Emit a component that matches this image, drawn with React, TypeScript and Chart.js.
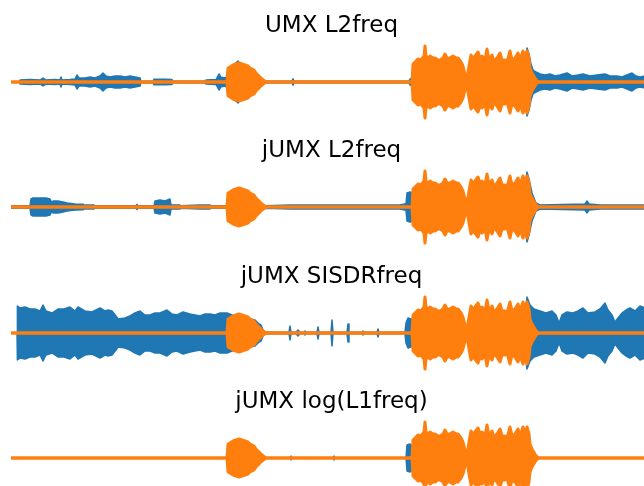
import React, { useEffect, useRef } from "react";
import { Chart, registerables } from "chart.js";

Chart.register(...registerables);

// Envelope points: [time (s), amplitude (normalised)]
const titles = ["UMX L2freq", "jUMX L2freq", "jUMX SISDRfreq", "jUMX log(L1freq)"];

// Target (orange) — same reference signal in every panel
const targetEnv: [number, number][] = [
  [0.0, 0], [10.8, 0], [10.85, 0.35], [10.95, 0.375], [11.1, 0.425], [11.25, 0.45], [11.4, 0.475],
  [11.55, 0.45], [11.7, 0.425], [11.85, 0.4], [11.95, 0.35], [12.05, 0.325], [12.15, 0.3], [12.25, 0.225],
  [12.35, 0.175], [12.45, 0.125], [12.55, 0.075], [12.65, 0.04], [12.75, 0], [20.05, 0],
  [20.1, 0.45], [20.2, 0.5], [20.35, 0.575], [20.5, 0.55], [20.65, 0.65], [20.7, 0.9], [20.75, 0.65],
  [20.85, 0.6], [20.95, 0.65], [21.1, 0.6], [21.2, 0.6], [21.35, 0.55], [21.45, 0.55], [21.6, 0.6],
  [21.7, 0.7], [21.8, 0.6], [21.95, 0.6], [22.1, 0.65], [22.25, 0.6], [22.35, 0.6], [22.5, 0.5],
  [22.6, 0.4], [22.7, 0.2], [22.8, 0.1], [22.9, 0.4], [23.0, 0.675], [23.1, 0.6], [23.2, 0.65],
  [23.35, 0.75], [23.45, 0.6], [23.55, 0.65], [23.7, 0.55], [23.8, 0.825], [23.9, 0.55], [24.05, 0.675],
  [24.15, 0.5], [24.3, 0.6], [24.45, 0.725], [24.55, 0.55], [24.7, 0.55], [24.8, 0.5], [24.95, 0.775],
  [25.05, 0.55], [25.2, 0.6], [25.35, 0.725], [25.45, 0.55], [25.6, 0.775], [25.7, 0.6], [25.8, 0.775],
  [25.9, 0.6], [25.95, 0.35], [26.05, 0.225], [26.2, 0.1], [26.3, 0.03], [26.4, 0], [32.05, 0],
];

// Estimates (blue) per model
const umxL2Env: [number, number][] = [
  [0.4, 0], [0.45, 0.05], [0.95, 0.0625], [1.45, 0.05], [1.6, 0.1], [1.75, 0.05], [2.2, 0.0625],
  [2.45, 0.05], [2.5, 0.125], [2.55, 0.05], [2.95, 0.0625], [3.2, 0.075], [3.3, 0.175], [3.4, 0.1],
  [3.7, 0.1], [3.95, 0.125], [4.2, 0.1], [4.45, 0.15], [4.6, 0.225], [4.75, 0.15], [4.95, 0.125],
  [5.2, 0.15], [5.45, 0.15], [5.7, 0.125], [5.95, 0.15], [6.2, 0.125], [6.45, 0.1], [6.5, 0.02],
  [7.1, 0.02], [7.15, 0.07], [7.7, 0.07], [8.05, 0.06], [8.1, 0.02], [9.7, 0.02], [9.75, 0.05],
  [10.25, 0.06], [10.4, 0.2], [10.5, 0.12], [10.75, 0.1], [10.85, 0.3], [11.35, 0.525], [11.55, 0.4],
  [11.95, 0.3], [12.35, 0.15], [12.6, 0.07], [12.7, 0.02], [14.05, 0.02], [14.1, 0.08], [14.15, 0.02],
  [19.9, 0.02], [19.95, 0.07], [20.05, 0.1], [20.1, 0.3], [22.65, 0.3], [22.75, 0.08], [22.9, 0.3],
  [25.7, 0.5], [25.8, 0.85], [25.9, 0.7], [26.0, 0.45], [26.1, 0.3], [26.25, 0.25], [26.45, 0.2],
  [26.7, 0.175], [26.95, 0.2], [27.2, 0.15], [27.45, 0.175], [27.8, 0.225], [28.05, 0.15], [28.35, 0.175],
  [28.6, 0.2], [28.95, 0.15], [29.3, 0.175], [29.7, 0.2], [29.95, 0.15], [30.3, 0.15], [30.55, 0.125],
  [30.8, 0.175], [31.05, 0.225], [31.25, 0.15], [31.45, 0.125], [31.7, 0.15], [32.05, 0.125],
];

const jumxL2Env: [number, number][] = [
  [0.0, 0.03], [0.95, 0.03], [1.0, 0.2], [1.1, 0.225], [1.45, 0.225], [1.75, 0.225], [1.95, 0.2],
  [2.05, 0.1], [2.1, 0.15], [2.35, 0.15], [2.6, 0.125], [2.8, 0.1], [3.2, 0.075], [3.6, 0.07],
  [3.65, 0.05], [4.15, 0.05], [4.2, 0.03], [6.25, 0.03], [6.3, 0.06], [6.35, 0.03], [7.15, 0.03],
  [7.2, 0.15], [7.45, 0.175], [7.7, 0.15], [7.95, 0.2], [8.0, 0.05], [8.45, 0.05], [8.5, 0.03],
  [9.45, 0.05], [9.95, 0.05], [10.0, 0.03], [10.8, 0.03], [10.85, 0.3], [12.4, 0.1], [12.7, 0.03],
  [14.0, 0.05], [15.55, 0.05], [19.45, 0.05], [19.75, 0.08], [19.8, 0.35], [19.95, 0.375], [20.05, 0.35],
  [20.1, 0.3], [22.65, 0.3], [22.75, 0.08], [22.9, 0.3], [25.7, 0.5], [25.8, 0.875], [25.9, 0.7],
  [26.05, 0.35], [26.25, 0.1], [26.45, 0.05], [28.7, 0.075], [28.8, 0.15], [28.9, 0.075], [29.45, 0.05],
  [32.05, 0.05],
];

const jumxSisdrEnv: [number, number][] = [
  [0.3, 0], [0.32, 0.675], [0.45, 0.625], [0.7, 0.65], [0.95, 0.6], [1.2, 0.6], [1.45, 0.55], [1.6, 0.7],
  [1.75, 0.55], [2.05, 0.5], [2.35, 0.6], [2.65, 0.6], [2.95, 0.65], [3.2, 0.55], [3.35, 0.65], [3.7, 0.55],
  [4.05, 0.525], [4.45, 0.625], [4.7, 0.55], [4.85, 0.575], [5.05, 0.55], [5.25, 0.425], [5.35, 0.35],
  [5.7, 0.375], [5.95, 0.425], [6.2, 0.5], [6.45, 0.55], [6.7, 0.45], [6.95, 0.45], [7.2, 0.5], [7.45, 0.5],
  [7.8, 0.575], [8.05, 0.475], [8.3, 0.45], [8.6, 0.525], [8.95, 0.475], [9.2, 0.45], [9.45, 0.425],
  [9.7, 0.475], [9.95, 0.475], [10.2, 0.45], [10.45, 0.5], [10.8, 0.5], [11.05, 0.45], [11.7, 0.4],
  [11.95, 0.35], [12.2, 0.325], [12.35, 0.25], [12.5, 0.2], [12.6, 0.075], [12.7, 0.02], [13.9, 0.02],
  [13.95, 0.175], [14.0, 0.02], [14.25, 0.02], [14.35, 0.075], [14.45, 0.02], [14.65, 0.02], [14.7, 0.05],
  [14.75, 0.02], [15.3, 0.02], [15.35, 0.15], [15.4, 0.02], [16.0, 0.02], [16.05, 0.325], [16.1, 0.02],
  [16.8, 0.02], [16.85, 0.225], [16.9, 0.02], [17.55, 0.02], [17.6, 0.05], [17.65, 0.02], [18.3, 0.02],
  [18.35, 0.1], [18.4, 0.02], [19.7, 0.02], [19.75, 0.25], [19.85, 0.375], [20.0, 0.35], [20.1, 0.3],
  [22.65, 0.3], [22.75, 0.08], [22.9, 0.3], [25.7, 0.5], [25.8, 0.9], [25.95, 0.7], [26.15, 0.6],
  [26.45, 0.55], [26.75, 0.5], [27.05, 0.55], [27.25, 0.45], [27.4, 0.25], [27.55, 0.45], [27.8, 0.525],
  [28.1, 0.5], [28.35, 0.55], [28.6, 0.625], [28.85, 0.5], [29.2, 0.525], [29.45, 0.6], [29.7, 0.75],
  [29.85, 0.575], [30.05, 0.45], [30.2, 0.275], [30.35, 0.375], [30.55, 0.5], [30.75, 0.575], [30.95, 0.625],
  [31.2, 0.55], [31.45, 0.675], [31.7, 0.625], [32.05, 0.6],
];

const jumxLogL1Env: [number, number][] = [
  [0.0, 0], [13.95, 0], [14.0, 0.05], [14.05, 0], [16.1, 0], [16.15, 0.05], [16.2, 0], [19.75, 0],
  [19.8, 0.325], [19.95, 0.35], [20.05, 0.3], [20.1, 0.2], [20.15, 0], [32.05, 0],
];

const estimates = [umxL2Env, jumxL2Env, jumxSisdrEnv, jumxLogL1Env];

const BLUE = "#1f77b4";
const ORANGE = "#ff7f0e";
const PANEL_TOPS = [0, 125, 251, 376];

const titlePlugin = {
  id: "panelTitle",
  afterDraw(chart: any, _args: any, opts: any) {
    const { ctx, chartArea } = chart;
    ctx.save();
    ctx.font = '23px "DejaVu Sans"';
    ctx.fillStyle = "#000";
    ctx.textAlign = "center";
    ctx.textBaseline = "alphabetic";
    ctx.fillText(opts.text, (chartArea.left + chartArea.right) / 2, opts.y);
    ctx.restore();
  },
};

function upper(env: [number, number][]) {
  return env.map(([t, a]) => ({ x: t, y: a }));
}
function lower(env: [number, number][]) {
  return env.map(([t, a]) => ({ x: t, y: -a }));
}

function Panel({ idx }: { idx: number }) {
  const ref = useRef<HTMLCanvasElement | null>(null);
  useEffect(() => {
    if (!ref.current) return;
    const common = { pointRadius: 0, tension: 0, fill: "origin", borderJoinStyle: "round" };
    const chart = new Chart(ref.current, {
      type: "line",
      data: {
        datasets: [
          { ...common, data: upper(targetEnv), borderColor: ORANGE, backgroundColor: ORANGE, borderWidth: 3, order: 1 },
          { ...common, data: lower(targetEnv), borderColor: ORANGE, backgroundColor: ORANGE, borderWidth: 3, order: 1 },
          { ...common, data: upper(estimates[idx]), borderColor: BLUE, backgroundColor: BLUE, borderWidth: 1.5, order: 2 },
          { ...common, data: lower(estimates[idx]), borderColor: BLUE, backgroundColor: BLUE, borderWidth: 1.5, order: 2 },
        ] as any,
      },
      options: {
        animation: false,
        responsive: false,
        events: [],
        layout: { padding: { left: 11, right: 8, top: 40, bottom: 1 } },
        scales: {
          x: { type: "linear", min: 0, max: 32.05, display: false },
          y: { min: -1.05, max: 1.05, display: false },
        },
        plugins: {
          legend: { display: false },
          tooltip: { enabled: false },
          panelTitle: { text: titles[idx], y: 32 },
        } as any,
      },
      plugins: [titlePlugin],
    });
    return () => chart.destroy();
  }, [idx]);
  return (
    <div style={{ position: "absolute", left: 0, top: PANEL_TOPS[idx], width: 660, height: 125 }}>
      <canvas ref={ref} width={660} height={125} style={{ display: "block" }} />
    </div>
  );
}

export default function App() {
  return (
    <div
      style={{
        position: "fixed",
        left: 0,
        top: 0,
        width: 644,
        height: 486,
        overflow: "hidden",
        background: "#fff",
      }}
    >
      {[0, 1, 2, 3].map((i) => (
        <Panel key={i} idx={i} />
      ))}
    </div>
  );
}
